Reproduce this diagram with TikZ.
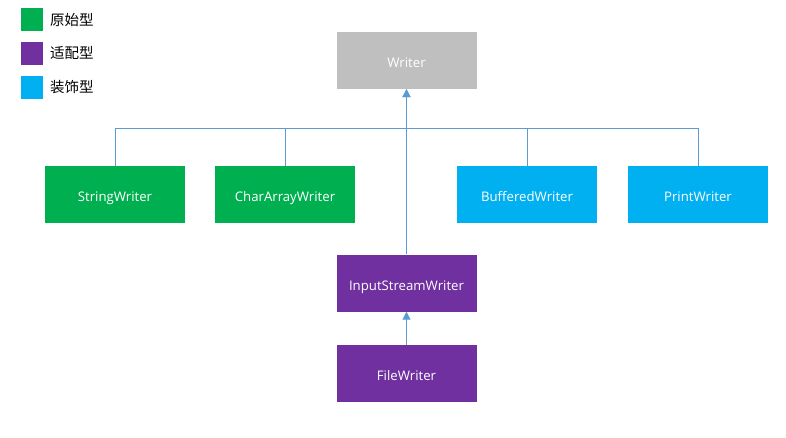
\documentclass[tikz,border=0pt]{standalone}
\usepackage{fontspec}
\setmainfont{Open Sans}
\newfontfamily\cjk{Noto Sans CJK SC}
\usetikzlibrary{arrows.meta}
\definecolor{cgreen}{HTML}{00B050}
\definecolor{cpurple}{HTML}{7030A0}
\definecolor{cblue}{HTML}{00B0F0}
\definecolor{cgray}{HTML}{BFBFBF}
\definecolor{cline}{HTML}{5B9BD5}
\begin{document}
\begin{tikzpicture}[x=1pt,y=-1pt,
  cls/.style={minimum width=140pt,minimum height=57pt,inner sep=0pt,text=white,font=\fontsize{13.2}{15}\selectfont,text height=16pt,text depth=2pt},
  leg/.style={minimum width=22pt,minimum height=23pt,inner sep=0pt},
  legtext/.style={anchor=west,inner sep=0pt,font=\cjk\fontsize{14.5}{17}\selectfont},
  conn/.style={draw=cline,line width=1pt},
  inh/.style={conn,-{Triangle[length=8pt,width=8pt]}}]
\useasboundingbox (0,0) rectangle (786,438);
% legend
\node[leg,fill=cgreen] (lg) at (32,19.5) {};
\node[leg,fill=cpurple] (lp) at (32,53.5) {};
\node[leg,fill=cblue] (lb) at (32,87.5) {};
\node[legtext] (tg) at (50,19.5) {原始型};
\node[legtext] (tp) at (50,53.5) {适配型};
\node[legtext] (tb) at (50,87.5) {装饰型};
% classes
\node[cls,fill=cgray] (writer) at (406.5,60.5) {Writer};
\node[cls,fill=cgreen] (sw) at (115,194.5) {StringWriter};
\node[cls,fill=cgreen] (caw) at (285,194.5) {CharArrayWriter};
\node[cls,fill=cblue] (bw) at (527,194.5) {BufferedWriter};
\node[cls,fill=cblue] (pw) at (698,194.5) {PrintWriter};
\node[cls,fill=cpurple] (isw) at (406.5,283) {InputStreamWriter};
\node[cls,fill=cpurple] (fw) at (406.5,373.5) {FileWriter};
% connectors
\coordinate (bus) at (406.5,129);
\draw[conn] (sw.north) |- (bus);
\draw[conn] (caw.north) |- (bus);
\draw[conn] (bw.north) |- (bus);
\draw[conn] (pw.north) |- (bus);
\draw[inh] (bus) -- (writer.south);
\draw[inh] (isw.north) -- (writer.south);
\draw[inh] (fw.north) -- (isw.south);
\end{tikzpicture}
\end{document}
